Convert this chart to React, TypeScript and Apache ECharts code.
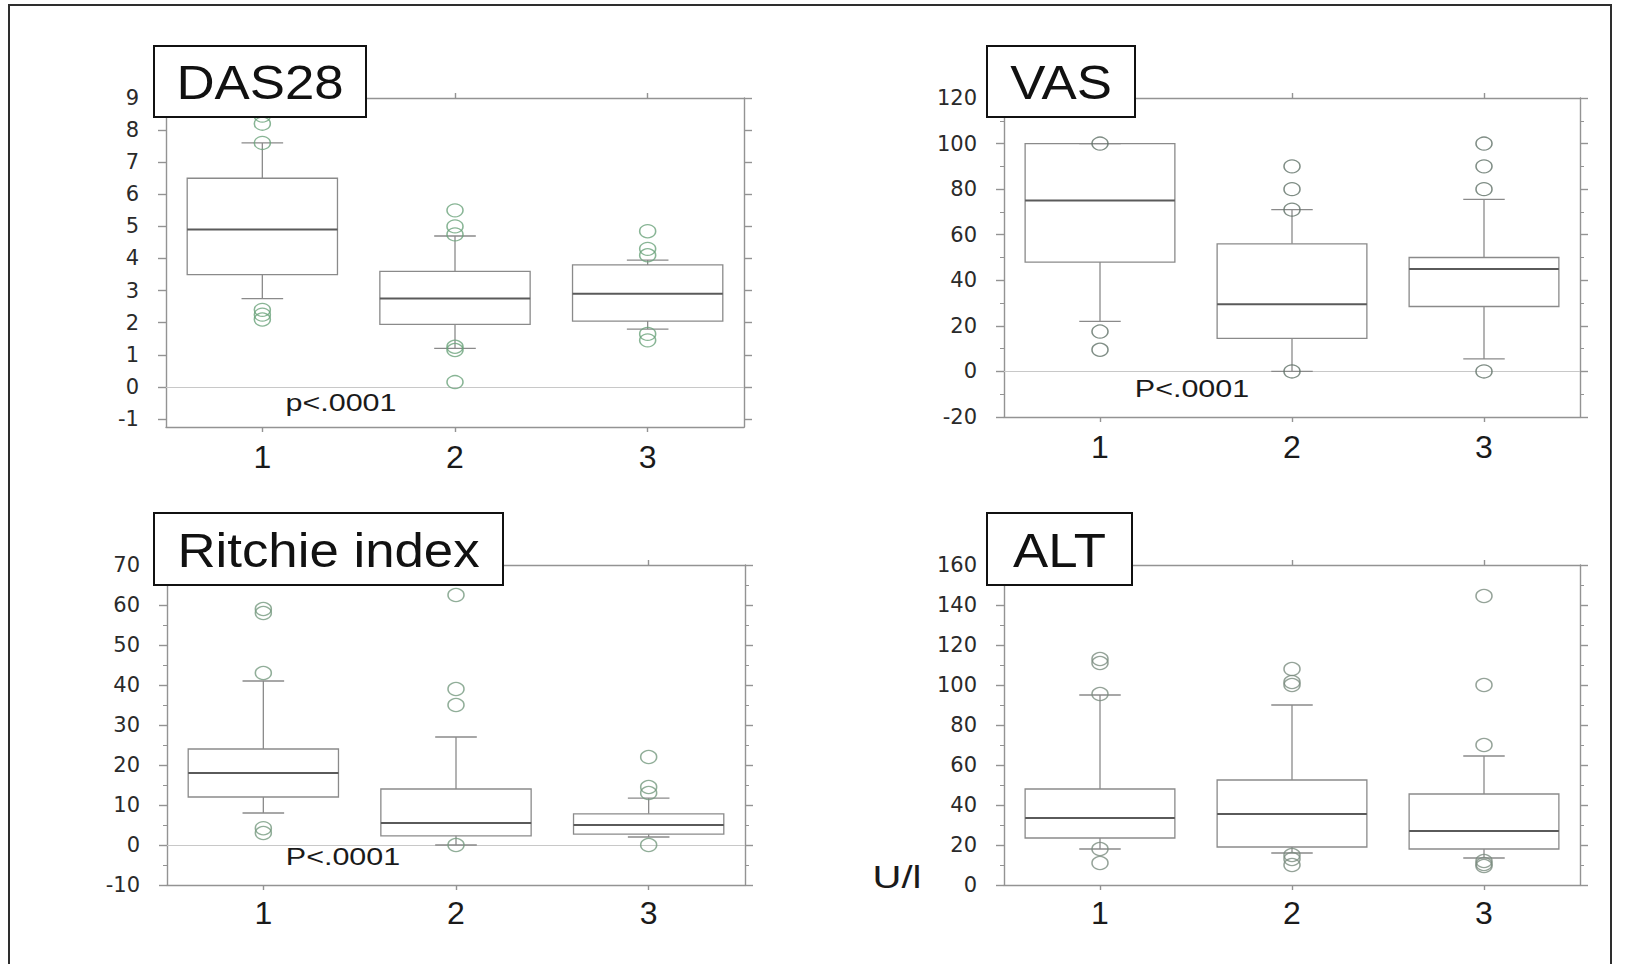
import React, { useEffect, useRef } from "react";
import * as echarts from "echarts";

// Group labels on the category axis
const groups = ["1", "2", "3"];

// Box statistics per group: [lower whisker, Q1, median, Q3, upper whisker]
const das28Boxes = [
  [2.75, 3.5, 4.9, 6.5, 7.6],
  [1.2, 1.95, 2.75, 3.6, 4.7],
  [1.8, 2.05, 2.9, 3.8, 3.95],
];
const das28Outliers = [
  [8.45, 8.2, 7.6, 2.4, 2.25, 2.1],
  [5.5, 5.0, 4.75, 1.25, 1.15, 0.15],
  [4.85, 4.3, 4.1, 1.65, 1.45],
];
const das28Ticks = [-1, 0, 1, 2, 3, 4, 5, 6, 7, 8, 9];

const vasBoxes = [
  [22, 48, 75, 100, 100],
  [0, 14.5, 29.5, 56, 71],
  [5.5, 28.5, 45, 50, 75.5],
];
const vasOutliers = [
  [100, 17.5, 9.5],
  [90, 80, 71, 0],
  [100, 90, 80, 0],
];

const ritchieBoxes = [
  [8, 12, 18, 24, 41],
  [0, 2.3, 5.5, 14, 27],
  [2, 2.7, 5, 7.8, 11.7],
];
const ritchieOutliers = [
  [59, 58, 43, 4.2, 3],
  [62.5, 39, 35, 0],
  [22, 14.5, 13, 0],
];

const altBoxes = [
  [18, 23.5, 33.5, 48, 95],
  [16, 19, 35.5, 52.5, 90],
  [13.5, 18, 27, 45.5, 64.5],
];
const altOutliers = [
  [113, 111, 95.5, 18, 11],
  [108, 101.5, 100, 15, 13, 10],
  [144.5, 100, 70, 12, 10.5, 9.5],
];

// Panel layout and axis ranges
const panels = [
  {
    title: "DAS28", boxes: das28Boxes, outliers: das28Outliers,
    min: -1.25, max: 9, ticks: das28Ticks, minor: false, zeroLine: true,
    grid: { left: 166, top: 98, width: 578, height: 329 },
    titleBox: { x: 154, y: 46, w: 212, h: 71 },
    pText: "p<.0001", pPos: [341, 403], circle: "#6aa27a", labelMargin: 14,
  },
  {
    title: "VAS", boxes: vasBoxes, outliers: vasOutliers,
    min: -20, max: 120, interval: 20, minor: true, zeroLine: true,
    grid: { left: 1004, top: 98, width: 576, height: 319 },
    titleBox: { x: 987, y: 46, w: 148, h: 71 },
    pText: "P<.0001", pPos: [1192, 389], circle: "#5f7166", labelMargin: 14,
  },
  {
    title: "Ritchie index", boxes: ritchieBoxes, outliers: ritchieOutliers,
    min: -10, max: 70, interval: 10, minor: true, zeroLine: true,
    grid: { left: 167, top: 565, width: 578, height: 320 },
    titleBox: { x: 154, y: 513, w: 349, h: 72 },
    pText: "P<.0001", pPos: [343, 857], circle: "#759a7f", labelMargin: 12,
  },
  {
    title: "ALT", boxes: altBoxes, outliers: altOutliers,
    min: 0, max: 160, interval: 20, minor: true, zeroLine: false,
    grid: { left: 1004, top: 565, width: 576, height: 320 },
    titleBox: { x: 987, y: 513, w: 145, h: 72 },
    pText: "", pPos: [0, 0], circle: "#7a8c80", labelMargin: 12,
  },
];

const AXIS_COLOR = "#939393";
const BOX_COLOR = "#8a8a8a";
const MEDIAN_COLOR = "#5a5a5a";

function renderBox(params: any, api: any) {
  const cat = api.value(0);
  const lo = api.coord([cat, api.value(1)]);
  const q1 = api.coord([cat, api.value(2)]);
  const md = api.coord([cat, api.value(3)]);
  const q3 = api.coord([cat, api.value(4)]);
  const hi = api.coord([cat, api.value(5)]);
  const band = api.size([1, 0])[0];
  const half = band * 0.39;
  const cap = band * 0.108;
  const cx = md[0];
  const thin = { stroke: BOX_COLOR, lineWidth: 1.3, fill: "none" };
  return {
    type: "group",
    children: [
      { type: "line", shape: { x1: cx, y1: q3[1], x2: cx, y2: hi[1] }, style: thin },
      { type: "line", shape: { x1: cx, y1: q1[1], x2: cx, y2: lo[1] }, style: thin },
      { type: "line", shape: { x1: cx - cap, y1: hi[1], x2: cx + cap, y2: hi[1] }, style: thin },
      { type: "line", shape: { x1: cx - cap, y1: lo[1], x2: cx + cap, y2: lo[1] }, style: thin },
      {
        type: "rect",
        shape: { x: cx - half, y: q3[1], width: half * 2, height: q1[1] - q3[1] },
        style: thin,
      },
      {
        type: "line",
        shape: { x1: cx - half, y1: md[1], x2: cx + half, y2: md[1] },
        style: { stroke: MEDIAN_COLOR, lineWidth: 2, fill: "none" },
      },
    ],
  };
}

function buildOption() {
  const grid: any[] = [];
  const xAxis: any[] = [];
  const yAxis: any[] = [];
  const series: any[] = [];
  const graphic: any[] = [];

  const lineStyle = { color: AXIS_COLOR, width: 1.4 };
  const axisLine = { show: true, onZero: false, lineStyle };

  panels.forEach((p, i) => {
    grid.push({ ...p.grid, containLabel: false });

    xAxis.push({
      type: "category", gridIndex: i, data: groups, position: "bottom",
      boundaryGap: true,
      axisLine,
      axisTick: { show: true, alignWithLabel: true, length: 5, lineStyle },
      axisLabel: {
        show: true, margin: p.labelMargin, fontSize: 32,
        fontFamily: "Liberation Sans", color: "#1a1a1a",
      },
      splitLine: { show: false },
    });
    xAxis.push({
      type: "category", gridIndex: i, data: groups, position: "top",
      boundaryGap: true,
      axisLine,
      axisTick: { show: true, alignWithLabel: true, length: 5, lineStyle },
      axisLabel: { show: false },
      splitLine: { show: false },
    });

    const common: any = {
      type: "value", gridIndex: i, min: p.min, max: p.max,
      splitLine: { show: false },
      axisLine,
    };
    if (p.interval) common.interval = p.interval;
    const tick: any = { show: true, length: 8, inside: false, lineStyle };
    if (p.ticks) tick.customValues = p.ticks;
    const minorTick = p.minor
      ? { show: true, splitNumber: 2, length: 4, lineStyle: { color: AXIS_COLOR, width: 1 } }
      : { show: false };

    const leftLabel: any = {
      show: true, margin: 27, fontSize: 21, fontFamily: "DejaVu Sans", color: "#2a2a2a",
    };
    if (p.ticks) leftLabel.customValues = p.ticks;

    yAxis.push({ ...common, position: "left", axisTick: tick, minorTick, axisLabel: leftLabel });
    yAxis.push({
      ...common, position: "right", axisTick: tick, minorTick,
      axisLabel: { show: false },
    });

    series.push({
      type: "custom",
      xAxisIndex: i * 2, yAxisIndex: i * 2,
      renderItem: renderBox,
      encode: { x: 0, y: [1, 2, 3, 4, 5] },
      data: p.boxes.map((b, g) => [g, ...b]),
      z: 2,
      silent: true,
    });

    const pts: number[][] = [];
    p.outliers.forEach((vals, g) => vals.forEach((v) => pts.push([g, v])));
    const scatter: any = {
      type: "scatter",
      xAxisIndex: i * 2, yAxisIndex: i * 2,
      data: pts,
      symbol: "circle",
      symbolSize: [16, 13],
      itemStyle: { color: "rgba(0,0,0,0)", borderColor: p.circle, borderWidth: 1.4 },
      z: 3,
      silent: true,
    };
    if (p.zeroLine) {
      scatter.markLine = {
        silent: true,
        animation: false,
        symbol: ["none", "none"],
        label: { show: false },
        lineStyle: { color: "#c8c8c8", width: 1.2, type: "solid" },
        data: [{ yAxis: 0 }],
        z: 1,
      };
    }
    series.push(scatter);

    const tb = p.titleBox;
    graphic.push({
      type: "rect", z: 100,
      shape: { x: tb.x, y: tb.y, width: tb.w, height: tb.h },
      style: { fill: "#ffffff", stroke: "#111111", lineWidth: 2 },
    });
    graphic.push({
      type: "text", z: 101,
      x: tb.x + tb.w / 2, y: tb.y + tb.h / 2 + 1, scaleX: 1.1,
      style: {
        text: p.title, fontSize: 48, fontFamily: "Liberation Sans",
        fill: "#111111", align: "center", verticalAlign: "middle",
      },
    });
    if (p.pText) {
      graphic.push({
        type: "text", z: 101,
        x: p.pPos[0], y: p.pPos[1], scaleX: 1.27,
        style: {
          text: p.pText, fontSize: 24, fontFamily: "Liberation Sans",
          fill: "#1a1a1a", align: "center", verticalAlign: "middle",
        },
      });
    }
  });

  // Unit label beside the ALT axis
  graphic.push({
    type: "text", z: 101, x: 897, y: 877, scaleX: 1.25,
    style: {
      text: "U/l", fontSize: 32, fontFamily: "Liberation Sans",
      fill: "#1a1a1a", align: "center", verticalAlign: "middle",
    },
  });

  // Outer frame
  graphic.push({
    type: "rect", z: 0,
    shape: { x: 9, y: 5, width: 1602, height: 962 },
    style: { fill: "none", stroke: "#2e2e2e", lineWidth: 2 },
  });

  return {
    animation: false,
    backgroundColor: "#ffffff",
    grid, xAxis, yAxis, series, graphic,
  };
}

export default function App() {
  const ref = useRef<HTMLDivElement>(null);
  useEffect(() => {
    if (!ref.current) return;
    const chart = echarts.init(ref.current, undefined, { renderer: "svg" });
    chart.setOption(buildOption() as any);
    return () => chart.dispose();
  }, []);
  return (
    <div
      ref={ref}
      style={{ position: "absolute", left: 0, top: 0, width: 1629, height: 964, background: "#fff" }}
    />
  );
}
